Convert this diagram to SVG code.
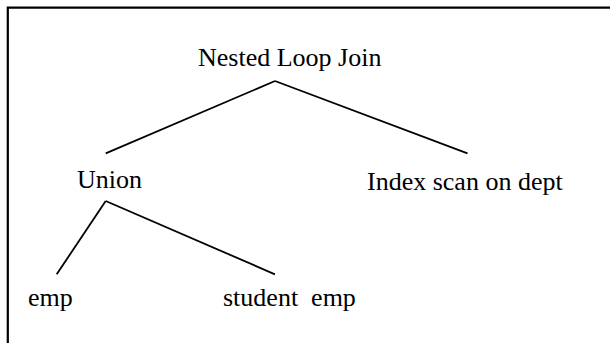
<svg xmlns="http://www.w3.org/2000/svg" width="610" height="343" viewBox="0 0 610 343">
<style>
.lbl{font-family:"Liberation Serif","Times New Roman",serif;font-size:26px;fill:#000;white-space:pre}
.edge{stroke:#000;stroke-width:1.8;fill:none;stroke-linecap:butt}
.frame{stroke:#000;stroke-width:2.2;fill:none}
</style>
<rect width="610" height="343" fill="#fff"/>
<path class="frame" d="M7.8,343 V7.7 H610"/>
<g id="connectors">
<line class="edge" x1="275" y1="81" x2="105.7" y2="153.3"/>
<line class="edge" x1="275" y1="81" x2="467.5" y2="153.3"/>
<line class="edge" x1="105.7" y1="201" x2="56.7" y2="274.3"/>
<line class="edge" x1="105.7" y1="201" x2="275" y2="274.3"/>
</g>
<g id="nested-loop-join"><text class="lbl" x="198" y="66">Nested Loop Join</text></g>
<g id="union"><text class="lbl" x="77" y="188">Union</text></g>
<g id="index-scan"><text class="lbl" x="367" y="190">Index scan on dept</text></g>
<g id="emp"><text class="lbl" x="28" y="306">emp</text></g>
<g id="student-emp"><text class="lbl" x="223" y="306" xml:space="preserve">student  emp</text></g>
</svg>
